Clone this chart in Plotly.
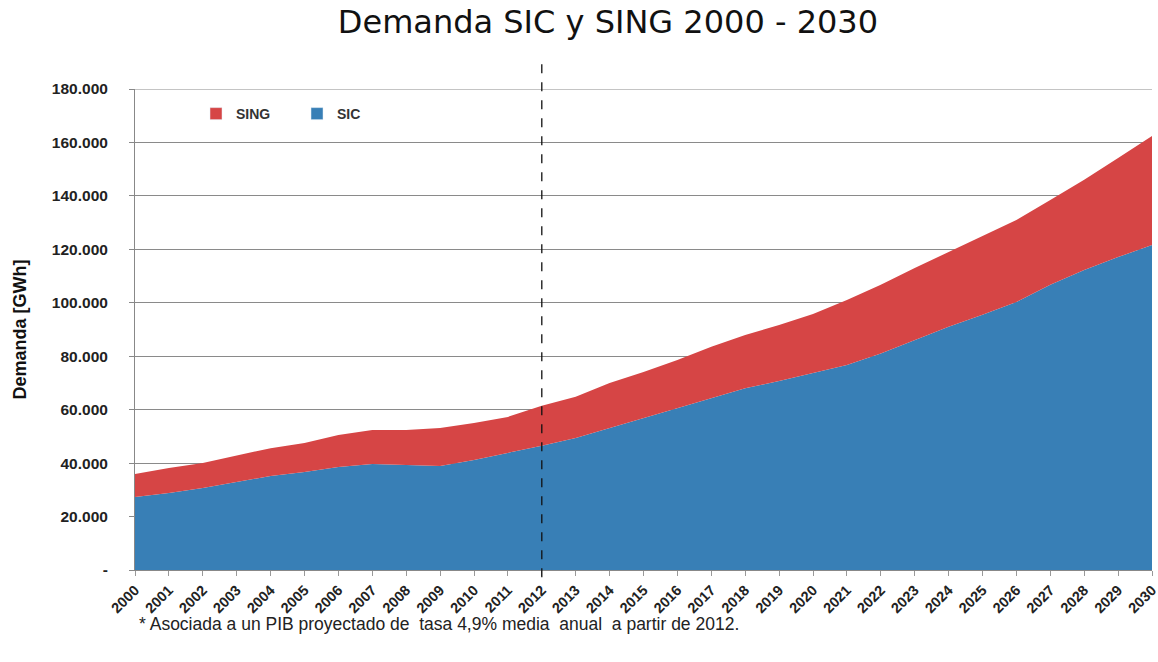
import plotly.graph_objects as go

years = list(range(2000, 2031))

# demanda SIC (GWh)
sic = [27300, 28800, 30700, 32900, 35200, 36700, 38500, 39700, 39300, 38900,
       41200, 43800, 46500, 49400, 53100, 56900, 60600, 64400, 68000, 70700,
       73600, 76700, 81000, 86000, 91000, 95500, 100300, 106700, 112300, 117100,
       121600]

# demanda total SIC + SING (GWh)
total = [35900, 38200, 40000, 42700, 45600, 47500, 50500, 52400, 52400, 53100,
         55000, 57300, 61500, 64800, 70000, 74100, 78600, 83500, 87900, 91700,
         95800, 101000, 106700, 113000, 119000, 124800, 131000, 138500, 146000, 154200,
         162400]

sing = [t - s for t, s in zip(total, sic)]

y_ticks = [0, 20000, 40000, 60000, 80000, 100000, 120000, 140000, 160000, 180000]
y_labels = ["-", "20.000", "40.000", "60.000", "80.000", "100.000",
            "120.000", "140.000", "160.000", "180.000"]

RED = "#d64545"
BLUE = "#387fb6"

fig = go.Figure()
fig.add_trace(go.Scatter(x=years, y=sic, name="SIC", stackgroup="one", showlegend=False,
                         mode="lines", line=dict(width=0, color=BLUE), fillcolor=BLUE))
fig.add_trace(go.Scatter(x=years, y=sing, name="SING", stackgroup="one", showlegend=False,
                         mode="lines", line=dict(width=0, color=RED), fillcolor=RED))
# entradas de leyenda con cuadrados
fig.add_trace(go.Bar(x=[None], y=[None], name="SING", marker_color=RED))
fig.add_trace(go.Bar(x=[None], y=[None], name="SIC", marker_color=BLUE))

# linea superior 180.000
fig.add_shape(type="line", xref="paper", yref="y", x0=0, x1=1, y0=180000, y1=180000,
              line=dict(color="#8a8a8a", width=1))
# linea punteada 2012
fig.add_shape(type="line", xref="x", yref="paper", x0=2012, x1=2012, y0=-0.015, y1=1.068,
              line=dict(color="#111111", width=1.3, dash="dash"))

fig.update_layout(
    width=1158, height=662,
    margin=dict(l=135, r=6, t=89, b=92),
    paper_bgcolor="white", plot_bgcolor="white",
    title=dict(text="Demanda SIC y SING 2000 - 2030", x=0.525, xanchor="center",
               y=0.967, yanchor="middle",
               font=dict(family="DejaVu Sans", size=32, color="#111111")),
    showlegend=True,
    legend=dict(orientation="h", x=0.06, y=0.948, xanchor="left", yanchor="middle",
                traceorder="normal", bgcolor="rgba(0,0,0,0)",
                font=dict(family="Liberation Sans", size=14, color="#333333", weight="bold"),
                entrywidth=56),
    annotations=[dict(text="* Asociada a un PIB proyectado de  tasa 4,9% media  anual  a partir de 2012.",
                      xref="paper", yref="paper", x=0.002, y=-0.112, xanchor="left", yanchor="middle",
                      showarrow=False,
                      font=dict(family="Liberation Sans", size=17.5, color="#222222"))],
)

fig.update_xaxes(range=[2000, 2030], tickmode="array", tickvals=years,
                 ticktext=[str(y) for y in years], tickangle=-45, automargin=False,
                 ticklabeloverflow="allow",
                 tickfont=dict(family="Liberation Sans", size=14.5, color="#222222", weight="bold"),
                 ticks="outside", ticklen=5, tickcolor="#999999",
                 showgrid=False, showline=True, linecolor="#888888", linewidth=1,
                 zeroline=False)
fig.update_yaxes(range=[0, 180000], tickmode="array", tickvals=y_ticks, ticktext=y_labels,
                 automargin=False, ticklabelstandoff=18,
                 tickfont=dict(family="Liberation Sans", size=15.5, color="#222222", weight="bold"),
                 ticks="outside", ticklen=5, tickcolor="#888888",
                 showgrid=True, gridcolor="#8a8a8a", gridwidth=1,
                 showline=True, linecolor="#888888", linewidth=1, zeroline=False,
                 title=dict(text="Demanda [GWh]", standoff=20,
                            font=dict(family="Liberation Sans", size=18, color="#111111", weight="bold")))

# sin margen del body para que la figura quede en (0, 0)
fig.write_html("out.html", config={"displayModeBar": False},
               post_script="document.body.style.margin='0';")
